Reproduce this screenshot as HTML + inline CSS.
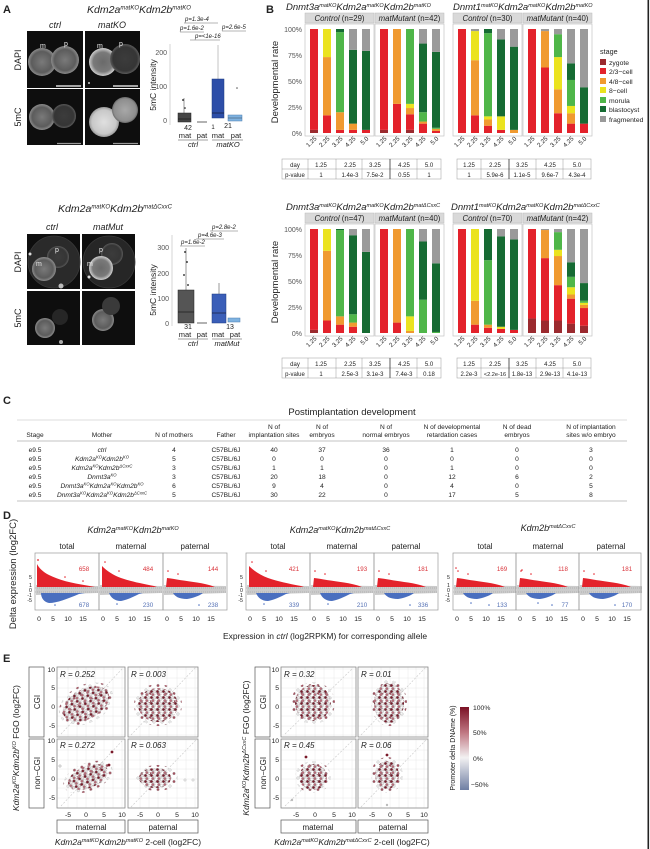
<!DOCTYPE html>
<html><head><meta charset="utf-8">
<style>
html,body{margin:0;padding:0;background:#fff;}
svg{display:block;}
text{font-family:"Liberation Sans",Arial,sans-serif;fill:#222;}
.r{fill:#e3222b}.dr{fill:#9b2a2f}.o{fill:#f09a30}.y{fill:#ebe31f}.lg{fill:#4fb649}.dg{fill:#166b33}.gy{fill:#9a9a9a}
.ax{font-size:7px;fill:#555}
.tk{font-size:6.2px;fill:#555}
.pv{font-size:6px;fill:#333}
.ct{font-size:6.6px;fill:#333}
.it{font-style:italic}
</style></head>
<body>
<svg width="650" height="849" viewBox="0 0 650 849" xmlns="http://www.w3.org/2000/svg">
<defs>
<radialGradient id="gMid"><stop offset="0" stop-color="#7a7a7a"/><stop offset="0.75" stop-color="#5c5c5c"/><stop offset="1" stop-color="#8c8c8c"/></radialGradient>
<radialGradient id="gDim"><stop offset="0" stop-color="#3c3c3c"/><stop offset="0.8" stop-color="#353535"/><stop offset="1" stop-color="#5a5a5a"/></radialGradient>
<radialGradient id="gRing"><stop offset="0" stop-color="#6a6a6a"/><stop offset="0.7" stop-color="#7a7a7a"/><stop offset="1" stop-color="#cfcfcf"/></radialGradient>
<radialGradient id="gBright"><stop offset="0" stop-color="#e0e0e0"/><stop offset="0.8" stop-color="#c8c8c8"/><stop offset="1" stop-color="#9a9a9a"/></radialGradient>
<radialGradient id="gMed"><stop offset="0" stop-color="#a8a8a8"/><stop offset="0.85" stop-color="#8e8e8e"/><stop offset="1" stop-color="#6a6a6a"/></radialGradient>
<linearGradient id="cbar" x1="0" y1="0" x2="0" y2="1">
<stop offset="0" stop-color="#7b1125"/><stop offset="0.31" stop-color="#c07883"/><stop offset="0.61" stop-color="#f3f1f2"/><stop offset="1" stop-color="#6f7fa3"/></linearGradient>
<pattern id="ep" width="6" height="6" patternUnits="userSpaceOnUse">
<circle cx="1.5" cy="1.5" r="1.35" fill="#7a1a2a" stroke="#777" stroke-width="0.3"/>
<circle cx="4.6" cy="1.8" r="1.3" fill="#f2e6e8" stroke="#888" stroke-width="0.3"/>
<circle cx="2.8" cy="4.6" r="1.35" fill="#b86a78" stroke="#888" stroke-width="0.3"/>
<circle cx="5.6" cy="5.2" r="1.1" fill="#fff" stroke="#999" stroke-width="0.3"/>
</pattern>
<pattern id="ep2" width="8" height="8" patternUnits="userSpaceOnUse">
<circle cx="2" cy="2" r="1.3" fill="#eee" stroke="#999" stroke-width="0.3"/>
<circle cx="6" cy="5.5" r="1.3" fill="#a7505f" stroke="#888" stroke-width="0.3"/>
</pattern>
<g id="dGray"><path d="M1,32 L63,33 L63,40 L1,42 Z" fill="#cbcbcb"/></g>
<g id="dLines"><line x1="0" y1="35" x2="64" y2="35" stroke="#888" stroke-width="0.4" stroke-dasharray="1,1"/><line x1="0" y1="39" x2="64" y2="39" stroke="#888" stroke-width="0.4" stroke-dasharray="1,1"/></g>
<g id="rT"><path d="M2,34 L2,11 C4,15 8,19 14,22 C24,27 36,30 52,32.5 L60,34 Z" fill="#e3222b"/><circle cx="3" cy="7" r="0.9" fill="#e3222b"/><circle cx="30" cy="24" r="0.8" fill="#e3222b"/><circle cx="48" cy="28" r="0.8" fill="#e3222b"/></g>
<g id="rM"><path d="M3,34 L3,13 C8,18 14,22 22,25 C32,28.5 42,30.5 55,33 L58,34 Z" fill="#e3222b"/><circle cx="6" cy="9" r="0.8" fill="#e3222b"/><circle cx="20" cy="18" r="0.8" fill="#e3222b"/></g>
<g id="rP"><path d="M3,34 L4,25 C12,26 22,28 34,29.5 C40,30.5 46,31.5 52,34 Z" fill="#e3222b"/><circle cx="5" cy="18" r="0.8" fill="#e3222b"/><circle cx="15" cy="21" r="0.8" fill="#e3222b"/></g>
<g id="bT"><path d="M6,40 C6,45 9,49 14,50 C22,50 32,46 44,41 L50,40 Z" fill="#4a6fbf"/><circle cx="20" cy="52" r="0.8" fill="#4a6fbf"/></g>
<g id="bM"><path d="M10,40 C12,45 16,48 22,48 C28,47 34,44 40,41 L44,40 Z" fill="#4a6fbf"/><circle cx="18" cy="51" r="0.8" fill="#4a6fbf"/></g>
<g id="bP"><path d="M10,40 C12,43.5 16,46 24,46 C30,45 36,43 40,40 Z" fill="#4a6fbf"/><circle cx="36" cy="52" r="0.8" fill="#4a6fbf"/></g>
</defs>

<rect x="0" y="0" width="650" height="849" fill="#fff"/>
<rect x="647.5" y="0" width="1.6" height="849" fill="#222"/>

<!-- ================= PANEL A ================= -->
<text x="3" y="13" font-size="11" font-weight="bold">A</text>
<text x="139" y="13" font-size="10.5" text-anchor="middle" class="it">Kdm2a<tspan dy="-3.5" font-size="6">matKO</tspan><tspan dy="3.5">Kdm2b</tspan><tspan dy="-3.5" font-size="6">matKO</tspan></text>
<text x="55" y="28" font-size="9" text-anchor="middle" class="it">ctrl</text>
<text x="112" y="28" font-size="9" text-anchor="middle" class="it">matKO</text>
<text transform="translate(21,60) rotate(-90)" font-size="9" text-anchor="middle">DAPI</text>
<text transform="translate(21,117) rotate(-90)" font-size="9" text-anchor="middle">5mC</text>
<rect x="27" y="31" width="56" height="57" fill="#0e0e0e"/>
<rect x="85" y="31" width="55" height="57" fill="#0e0e0e"/>
<rect x="27" y="89" width="56" height="56" fill="#0e0e0e"/>
<rect x="85" y="89" width="55" height="56" fill="#0e0e0e"/>
<circle cx="42" cy="62" r="14" fill="url(#gMid)"/>
<circle cx="65" cy="60" r="14" fill="url(#gMid)"/>
<circle cx="103" cy="62" r="14" fill="url(#gRing)"/>
<circle cx="125" cy="59" r="15" fill="url(#gDim)"/>
<circle cx="42" cy="117" r="13" fill="url(#gMid)"/>
<circle cx="64" cy="116" r="12" fill="url(#gDim)"/>
<circle cx="104" cy="122" r="15" fill="url(#gBright)"/>
<circle cx="125" cy="110" r="13" fill="url(#gMed)"/>
<text x="40" y="48" font-size="7" style="fill:#eee">m</text>
<text x="64" y="46" font-size="7" style="fill:#eee">p</text>
<text x="97" y="48" font-size="7" style="fill:#eee">m</text>
<text x="119" y="46" font-size="7" style="fill:#eee">p</text>
<line x1="56" y1="86" x2="81" y2="86" stroke="#fff" stroke-width="1.2"/>
<line x1="113" y1="86" x2="138" y2="86" stroke="#fff" stroke-width="1.2"/>
<line x1="57" y1="143.5" x2="81" y2="143.5" stroke="#999" stroke-width="1.2"/>
<line x1="113" y1="143.5" x2="138" y2="143.5" stroke="#999" stroke-width="1.2"/>
<circle cx="89" cy="83" r="1" fill="#ccc"/>

<!-- A top boxplot -->
<text transform="translate(156,85) rotate(-90)" font-size="8.5" text-anchor="middle">5mC intensity</text>
<line x1="170" y1="44" x2="170" y2="125" stroke="#bbb" stroke-width="0.6"/>
<text x="167" y="55" class="ax" text-anchor="end">200</text>
<text x="167" y="89" class="ax" text-anchor="end">100</text>
<text x="167" y="123" class="ax" text-anchor="end">0</text>
<line x1="184" y1="98" x2="184" y2="113" stroke="#555" stroke-width="0.6"/>
<rect x="178" y="113" width="13" height="9" fill="#444" stroke="#222" stroke-width="0.5"/>
<line x1="178" y1="119" x2="191" y2="119" stroke="#111" stroke-width="0.6"/>
<circle cx="183" cy="100" r="0.9" fill="#111"/><circle cx="185" cy="108" r="0.8" fill="#111"/>
<line x1="197" y1="122" x2="207" y2="122" stroke="#666" stroke-width="1"/>
<line x1="218" y1="45" x2="218" y2="79" stroke="#888" stroke-width="0.5"/>
<rect x="212" y="79" width="12" height="39" fill="#2d4ea8" stroke="#1e3a80" stroke-width="0.5"/>
<line x1="212" y1="113" x2="224" y2="113" stroke="#112" stroke-width="0.6"/>
<circle cx="237" cy="88" r="0.8" fill="#555"/>
<rect x="228" y="115" width="14" height="6" fill="#7fb2e0" stroke="#4a7fb0" stroke-width="0.5"/>
<line x1="228" y1="118" x2="242" y2="118" stroke="#345" stroke-width="0.5"/>
<text x="188" y="130" font-size="7" text-anchor="middle">42</text>
<text x="213" y="129" font-size="6" text-anchor="middle">1</text>
<text x="228" y="128" font-size="7" text-anchor="middle">21</text>
<text x="185" y="138" font-size="7.5" text-anchor="middle">mat</text>
<text x="202" y="138" font-size="7.5" text-anchor="middle">pat</text>
<text x="218" y="138" font-size="7.5" text-anchor="middle">mat</text>
<text x="236" y="138" font-size="7.5" text-anchor="middle">pat</text>
<line x1="178" y1="140" x2="208" y2="140" stroke="#444" stroke-width="0.5"/>
<line x1="212" y1="140" x2="243" y2="140" stroke="#444" stroke-width="0.5"/>
<text x="193" y="147" font-size="7.5" text-anchor="middle" class="it">ctrl</text>
<text x="228" y="147" font-size="7.5" text-anchor="middle" class="it">matKO</text>
<text x="185" y="21" font-size="6" class="it">p=1.3e-4</text>
<line x1="184" y1="23" x2="218" y2="23" stroke="#444" stroke-width="0.4"/>
<text x="180" y="30" font-size="6" class="it">p=1.6e-2</text>
<line x1="180" y1="32" x2="204" y2="32" stroke="#444" stroke-width="0.4"/>
<text x="222" y="29" font-size="6" class="it">p=2.6e-5</text>
<line x1="222" y1="31" x2="246" y2="31" stroke="#444" stroke-width="0.4"/>
<text x="195" y="38" font-size="6" class="it">p=&lt;1e-16</text>
<line x1="190" y1="40" x2="220" y2="40" stroke="#444" stroke-width="0.4"/>

<!-- A bottom -->
<text x="115" y="212" font-size="10.5" text-anchor="middle" class="it">Kdm2a<tspan dy="-3.5" font-size="6">matKO</tspan><tspan dy="3.5">Kdm2b</tspan><tspan dy="-3.5" font-size="6">matΔCxxC</tspan></text>
<text x="52" y="230" font-size="9" text-anchor="middle" class="it">ctrl</text>
<text x="108" y="230" font-size="9" text-anchor="middle" class="it">matMut</text>
<text transform="translate(21,262) rotate(-90)" font-size="9" text-anchor="middle">DAPI</text>
<text transform="translate(21,318) rotate(-90)" font-size="9" text-anchor="middle">5mC</text>
<rect x="27" y="234" width="53" height="55" fill="#0e0e0e"/>
<rect x="82" y="234" width="53" height="55" fill="#0e0e0e"/>
<rect x="27" y="291" width="53" height="54" fill="#0e0e0e"/>
<rect x="82" y="291" width="53" height="54" fill="#0e0e0e"/>
<circle cx="54" cy="262" r="26" fill="#2a2a2a" stroke="#3a3a3a" stroke-width="0.8"/>
<circle cx="109" cy="262" r="26" fill="#262626" stroke="#3a3a3a" stroke-width="0.8"/>
<circle cx="58" cy="257" r="11" fill="url(#gDim)"/>
<circle cx="44" cy="269" r="12" fill="url(#gMid)"/>
<circle cx="112" cy="254" r="11" fill="url(#gDim)"/>
<circle cx="101" cy="268" r="12" fill="url(#gRing)"/>
<circle cx="30" cy="254" r="1.5" fill="#ddd"/>
<circle cx="61" cy="286" r="2.5" fill="#bbb"/>
<circle cx="89" cy="277" r="1.5" fill="#ddd"/>
<text x="55" y="252" font-size="7" style="fill:#eee">p</text>
<text x="36" y="266" font-size="7" style="fill:#eee">m</text>
<text x="99" y="252" font-size="7" style="fill:#eee">p</text>
<text x="87" y="266" font-size="7" style="fill:#eee">m</text>
<circle cx="45" cy="328" r="10" fill="url(#gMid)"/>
<circle cx="60" cy="317" r="8" fill="#262626"/>
<circle cx="103" cy="320" r="11" fill="url(#gMid)"/>
<circle cx="111" cy="306" r="9" fill="#3a3a3a"/>
<circle cx="61" cy="342" r="2" fill="#aaa"/>
<!-- A bottom boxplot -->
<text transform="translate(156,290) rotate(-90)" font-size="8.5" text-anchor="middle">5mC intensity</text>
<line x1="172" y1="235" x2="172" y2="326" stroke="#bbb" stroke-width="0.6"/>
<text x="169" y="250" class="ax" text-anchor="end">300</text>
<text x="169" y="276" class="ax" text-anchor="end">200</text>
<text x="169" y="301" class="ax" text-anchor="end">100</text>
<text x="169" y="326" class="ax" text-anchor="end">0</text>
<line x1="186" y1="248" x2="186" y2="290" stroke="#555" stroke-width="0.6"/>
<rect x="178" y="290" width="16" height="33" fill="#555" stroke="#222" stroke-width="0.5"/>
<line x1="178" y1="312" x2="194" y2="312" stroke="#111" stroke-width="0.6"/>
<circle cx="185" cy="252" r="0.9" fill="#111"/><circle cx="187" cy="262" r="0.9" fill="#111"/><circle cx="184" cy="275" r="0.9" fill="#111"/><circle cx="188" cy="285" r="0.9" fill="#111"/>
<line x1="197" y1="323" x2="207" y2="323" stroke="#666" stroke-width="1"/>
<line x1="219" y1="283" x2="219" y2="294" stroke="#555" stroke-width="0.6"/>
<rect x="212" y="294" width="14" height="29" fill="#3a5eb8" stroke="#1e3a80" stroke-width="0.5"/>
<line x1="212" y1="313" x2="226" y2="313" stroke="#112" stroke-width="0.6"/>
<rect x="228" y="318" width="12" height="4" fill="#7fb2e0" stroke="#4a7fb0" stroke-width="0.5"/>
<text x="188" y="329" font-size="7" text-anchor="middle">31</text>
<text x="230" y="329" font-size="7" text-anchor="middle">13</text>
<text x="185" y="337" font-size="7.5" text-anchor="middle">mat</text>
<text x="202" y="337" font-size="7.5" text-anchor="middle">pat</text>
<text x="218" y="337" font-size="7.5" text-anchor="middle">mat</text>
<text x="235" y="337" font-size="7.5" text-anchor="middle">pat</text>
<line x1="178" y1="339" x2="208" y2="339" stroke="#444" stroke-width="0.5"/>
<line x1="212" y1="339" x2="242" y2="339" stroke="#444" stroke-width="0.5"/>
<text x="193" y="346" font-size="7.5" text-anchor="middle" class="it">ctrl</text>
<text x="227" y="346" font-size="7.5" text-anchor="middle" class="it">matMut</text>
<text x="181" y="244" font-size="6" class="it">p=1.6e-2</text>
<line x1="180" y1="246" x2="205" y2="246" stroke="#444" stroke-width="0.4"/>
<text x="198" y="237" font-size="6" class="it">p=4.6e-3</text>
<line x1="196" y1="239" x2="224" y2="239" stroke="#444" stroke-width="0.4"/>
<text x="212" y="229" font-size="6" class="it">p=2.8e-2</text>
<line x1="210" y1="231" x2="238" y2="231" stroke="#444" stroke-width="0.4"/>

<!-- ================= PANEL B ================= -->
<text x="266" y="13" font-size="11" font-weight="bold">B</text>
<text x="286" y="10" font-size="9.5" class="it">Dnmt3a<tspan dy="-3" font-size="5.5">matKO</tspan><tspan dy="3">Kdm2a</tspan><tspan dy="-3" font-size="5.5">matKO</tspan><tspan dy="3">Kdm2b</tspan><tspan dy="-3" font-size="5.5">matKO</tspan></text>
<text x="453" y="10" font-size="9.5" class="it">Dnmt1<tspan dy="-3" font-size="5.5">matKO</tspan><tspan dy="3">Kdm2a</tspan><tspan dy="-3" font-size="5.5">matKO</tspan><tspan dy="3">Kdm2b</tspan><tspan dy="-3" font-size="5.5">matKO</tspan></text>
<text x="286" y="210" font-size="9.5" class="it">Dnmt3a<tspan dy="-3" font-size="5.5">matKO</tspan><tspan dy="3">Kdm2a</tspan><tspan dy="-3" font-size="5.5">matKO</tspan><tspan dy="3">Kdm2b</tspan><tspan dy="-3" font-size="5.5">matΔCxxC</tspan></text>
<text x="451" y="210" font-size="9.5" class="it">Dnmt1<tspan dy="-3" font-size="5.5">matKO</tspan><tspan dy="3">Kdm2a</tspan><tspan dy="-3" font-size="5.5">matKO</tspan><tspan dy="3">Kdm2b</tspan><tspan dy="-3" font-size="5.5">matΔCxxC</tspan></text>

<g>
<text transform="translate(278,82) rotate(-90)" font-size="9.5" text-anchor="middle">Developmental rate</text>
<text x="302" y="32" class="ax" text-anchor="end">100%</text>
<text x="302" y="58" class="ax" text-anchor="end">75%</text>
<text x="302" y="84" class="ax" text-anchor="end">50%</text>
<text x="302" y="110" class="ax" text-anchor="end">25%</text>
<text x="302" y="136" class="ax" text-anchor="end">0%</text>
<text transform="translate(278,282) rotate(-90)" font-size="9.5" text-anchor="middle">Developmental rate</text>
<text x="302" y="232" class="ax" text-anchor="end">100%</text>
<text x="302" y="258" class="ax" text-anchor="end">75%</text>
<text x="302" y="284" class="ax" text-anchor="end">50%</text>
<text x="302" y="310" class="ax" text-anchor="end">25%</text>
<text x="302" y="336" class="ax" text-anchor="end">0%</text>
</g>

<g fill="#d9d9d9" stroke="#bbb" stroke-width="0.5">
<rect x="305" y="13" width="69" height="10"/><rect x="375" y="13" width="69" height="10"/>
<rect x="453" y="13" width="69" height="10"/><rect x="523" y="13" width="69" height="10"/>
<rect x="305" y="213" width="69" height="10"/><rect x="375" y="213" width="69" height="10"/>
<rect x="453" y="213" width="69" height="10"/><rect x="523" y="213" width="69" height="10"/>
</g>
<g fill="none" stroke="#c4c4c4" stroke-width="0.7">
<rect x="305" y="24" width="69" height="112"/><rect x="375" y="24" width="69" height="112"/>
<rect x="453" y="24" width="69" height="112"/><rect x="523" y="24" width="69" height="112"/>
<rect x="305" y="224" width="69" height="112"/><rect x="375" y="224" width="69" height="112"/>
<rect x="453" y="224" width="69" height="112"/><rect x="523" y="224" width="69" height="112"/>
</g>
<g font-size="7.8" text-anchor="middle">
<text x="339.5" y="21"><tspan class="it">Control</tspan> (n=29)</text>
<text x="409.5" y="21"><tspan class="it">matMutant</tspan> (n=42)</text>
<text x="487.5" y="21"><tspan class="it">Control</tspan> (n=30)</text>
<text x="557.5" y="21"><tspan class="it">matMutant</tspan> (n=40)</text>
<text x="339.5" y="221"><tspan class="it">Control</tspan> (n=47)</text>
<text x="409.5" y="221"><tspan class="it">matMutant</tspan> (n=40)</text>
<text x="487.5" y="221"><tspan class="it">Control</tspan> (n=70)</text>
<text x="557.5" y="221"><tspan class="it">matMutant</tspan> (n=42)</text>
</g>

<g transform="matrix(1,0,0,-1.04,0,133)">
<rect class="dr" x="310" y="0" width="8" height="3"/><rect class="r" x="310" y="3" width="8" height="97"/>
<rect class="r" x="323" y="0" width="8" height="17"/><rect class="o" x="323" y="17" width="8" height="56"/><rect class="y" x="323" y="73" width="8" height="27"/>
<rect class="r" x="336" y="0" width="8" height="3"/><rect class="o" x="336" y="3" width="8" height="17"/><rect class="lg" x="336" y="20" width="8" height="77"/><rect class="dg" x="336" y="97" width="8" height="3"/>
<rect class="r" x="349" y="0" width="8" height="3"/><rect class="o" x="349" y="3" width="8" height="6"/><rect class="dg" x="349" y="9" width="8" height="71"/><rect class="gy" x="349" y="80" width="8" height="20"/>
<rect class="r" x="362" y="0" width="8" height="3"/><rect class="dg" x="362" y="3" width="8" height="76"/><rect class="gy" x="362" y="79" width="8" height="21"/>
<rect class="dr" x="380" y="0" width="8" height="3"/><rect class="r" x="380" y="3" width="8" height="97"/>
<rect class="r" x="393" y="0" width="8" height="28"/><rect class="o" x="393" y="28" width="8" height="72"/>
<rect class="dr" x="406" y="0" width="8" height="3"/><rect class="r" x="406" y="3" width="8" height="15"/><rect class="o" x="406" y="18" width="8" height="6"/><rect class="y" x="406" y="24" width="8" height="4"/><rect class="lg" x="406" y="28" width="8" height="72"/>
<rect class="r" x="419" y="0" width="8" height="9"/><rect class="o" x="419" y="9" width="8" height="2"/><rect class="lg" x="419" y="11" width="8" height="9"/><rect class="dg" x="419" y="20" width="8" height="66"/><rect class="gy" x="419" y="86" width="8" height="14"/>
<rect class="r" x="432" y="0" width="8" height="2"/><rect class="o" x="432" y="2" width="8" height="2"/><rect class="lg" x="432" y="4" width="8" height="1"/><rect class="dg" x="432" y="5" width="8" height="73"/><rect class="gy" x="432" y="78" width="8" height="22"/>
</g>
<g transform="matrix(1,0,0,-1.04,0,133)">
<rect class="r" x="458" y="0" width="8" height="100"/>
<rect class="r" x="471" y="0" width="8" height="17"/><rect class="o" x="471" y="17" width="8" height="53"/><rect class="y" x="471" y="70" width="8" height="28"/><rect class="gy" x="471" y="98" width="8" height="2"/>
<rect class="r" x="484" y="0" width="8" height="7"/><rect class="o" x="484" y="7" width="8" height="6"/><rect class="y" x="484" y="13" width="8" height="3"/><rect class="lg" x="484" y="16" width="8" height="80"/><rect class="dg" x="484" y="96" width="8" height="4"/>
<rect class="r" x="497" y="0" width="8" height="3"/><rect class="y" x="497" y="3" width="8" height="13"/><rect class="dg" x="497" y="16" width="8" height="74"/><rect class="gy" x="497" y="90" width="8" height="10"/>
<rect class="o" x="510" y="0" width="8" height="3"/><rect class="dg" x="510" y="3" width="8" height="80"/><rect class="gy" x="510" y="83" width="8" height="17"/>
<rect class="r" x="528" y="0" width="8" height="100"/>
<rect class="r" x="541" y="0" width="8" height="63"/><rect class="o" x="541" y="63" width="8" height="35"/><rect class="gy" x="541" y="98" width="8" height="2"/>
<rect class="r" x="554" y="0" width="8" height="19"/><rect class="o" x="554" y="19" width="8" height="23"/><rect class="y" x="554" y="42" width="8" height="31"/><rect class="lg" x="554" y="73" width="8" height="22"/><rect class="gy" x="554" y="95" width="8" height="5"/>
<rect class="r" x="567" y="0" width="8" height="9"/><rect class="o" x="567" y="9" width="8" height="10"/><rect class="y" x="567" y="19" width="8" height="7"/><rect class="lg" x="567" y="26" width="8" height="25"/><rect class="dg" x="567" y="51" width="8" height="16"/><rect class="gy" x="567" y="67" width="8" height="33"/>
<rect class="r" x="580" y="0" width="8" height="9"/><rect class="dg" x="580" y="9" width="8" height="35"/><rect class="gy" x="580" y="44" width="8" height="56"/>
</g>
<g transform="matrix(1,0,0,-1.04,0,333)">
<rect class="dr" x="310" y="0" width="8" height="3"/><rect class="r" x="310" y="3" width="8" height="97"/>
<rect class="r" x="323" y="0" width="8" height="12"/><rect class="o" x="323" y="12" width="8" height="67"/><rect class="y" x="323" y="79" width="8" height="21"/>
<rect class="r" x="336" y="0" width="8" height="8"/><rect class="o" x="336" y="8" width="8" height="8"/><rect class="lg" x="336" y="16" width="8" height="83"/><rect class="dg" x="336" y="99" width="8" height="1"/>
<rect class="r" x="349" y="0" width="8" height="6"/><rect class="o" x="349" y="6" width="8" height="4"/><rect class="lg" x="349" y="10" width="8" height="8"/><rect class="dg" x="349" y="18" width="8" height="76"/><rect class="gy" x="349" y="94" width="8" height="6"/>
<rect class="dg" x="362" y="0" width="8" height="78"/><rect class="gy" x="362" y="78" width="8" height="22"/>
<rect class="r" x="380" y="0" width="8" height="100"/>
<rect class="r" x="393" y="0" width="8" height="10"/><rect class="o" x="393" y="10" width="8" height="90"/>
<rect class="o" x="406" y="0" width="8" height="2"/><rect class="y" x="406" y="2" width="8" height="14"/><rect class="lg" x="406" y="16" width="8" height="84"/>
<rect class="lg" x="419" y="0" width="8" height="32"/><rect class="dg" x="419" y="32" width="8" height="56"/><rect class="gy" x="419" y="88" width="8" height="12"/>
<rect class="lg" x="432" y="0" width="8" height="1"/><rect class="dg" x="432" y="1" width="8" height="66"/><rect class="gy" x="432" y="67" width="8" height="33"/>
</g>
<g transform="matrix(1,0,0,-1.04,0,333)">
<rect class="r" x="458" y="0" width="8" height="100"/>
<rect class="r" x="471" y="0" width="8" height="8"/><rect class="o" x="471" y="8" width="8" height="23"/><rect class="y" x="471" y="31" width="8" height="69"/>
<rect class="r" x="484" y="0" width="8" height="5"/><rect class="o" x="484" y="5" width="8" height="3"/><rect class="lg" x="484" y="8" width="8" height="62"/><rect class="dg" x="484" y="70" width="8" height="30"/>
<rect class="r" x="497" y="0" width="8" height="4"/><rect class="y" x="497" y="4" width="8" height="2"/><rect class="dg" x="497" y="6" width="8" height="87"/><rect class="gy" x="497" y="93" width="8" height="7"/>
<rect class="r" x="510" y="0" width="8" height="3"/><rect class="dg" x="510" y="3" width="8" height="87"/><rect class="gy" x="510" y="90" width="8" height="10"/>
<rect class="dr" x="528" y="0" width="8" height="14"/><rect class="r" x="528" y="14" width="8" height="86"/>
<rect class="dr" x="541" y="0" width="8" height="12"/><rect class="r" x="541" y="12" width="8" height="60"/><rect class="o" x="541" y="72" width="8" height="27"/><rect class="gy" x="541" y="99" width="8" height="1"/>
<rect class="dr" x="554" y="0" width="8" height="12"/><rect class="r" x="554" y="12" width="8" height="34"/><rect class="o" x="554" y="46" width="8" height="28"/><rect class="y" x="554" y="74" width="8" height="6"/><rect class="lg" x="554" y="80" width="8" height="17"/><rect class="gy" x="554" y="97" width="8" height="3"/>
<rect class="dr" x="567" y="0" width="8" height="9"/><rect class="r" x="567" y="9" width="8" height="24"/><rect class="o" x="567" y="33" width="8" height="4"/><rect class="y" x="567" y="37" width="8" height="7"/><rect class="lg" x="567" y="44" width="8" height="10"/><rect class="dg" x="567" y="54" width="8" height="14"/><rect class="gy" x="567" y="68" width="8" height="32"/>
<rect class="dr" x="580" y="0" width="8" height="7"/><rect class="r" x="580" y="7" width="8" height="17"/><rect class="o" x="580" y="24" width="8" height="3"/><rect class="y" x="580" y="27" width="8" height="2"/><rect class="lg" x="580" y="29" width="8" height="2"/><rect class="dg" x="580" y="31" width="8" height="17"/><rect class="gy" x="580" y="48" width="8" height="52"/>
</g>

<g class="tk" text-anchor="end">
<text transform="translate(317,139) rotate(-45)">1.25</text><text transform="translate(330,139) rotate(-45)">2.25</text><text transform="translate(343,139) rotate(-45)">3.25</text><text transform="translate(356,139) rotate(-45)">4.25</text><text transform="translate(369,139) rotate(-45)">5.0</text>
<text transform="translate(387,139) rotate(-45)">1.25</text><text transform="translate(400,139) rotate(-45)">2.25</text><text transform="translate(413,139) rotate(-45)">3.25</text><text transform="translate(426,139) rotate(-45)">4.25</text><text transform="translate(439,139) rotate(-45)">5.0</text>
<text transform="translate(465,139) rotate(-45)">1.25</text><text transform="translate(478,139) rotate(-45)">2.25</text><text transform="translate(491,139) rotate(-45)">3.25</text><text transform="translate(504,139) rotate(-45)">4.25</text><text transform="translate(517,139) rotate(-45)">5.0</text>
<text transform="translate(535,139) rotate(-45)">1.25</text><text transform="translate(548,139) rotate(-45)">2.25</text><text transform="translate(561,139) rotate(-45)">3.25</text><text transform="translate(574,139) rotate(-45)">4.25</text><text transform="translate(587,139) rotate(-45)">5.0</text>
<text transform="translate(317,339) rotate(-45)">1.25</text><text transform="translate(330,339) rotate(-45)">2.25</text><text transform="translate(343,339) rotate(-45)">3.25</text><text transform="translate(356,339) rotate(-45)">4.25</text><text transform="translate(369,339) rotate(-45)">5.0</text>
<text transform="translate(387,339) rotate(-45)">1.25</text><text transform="translate(400,339) rotate(-45)">2.25</text><text transform="translate(413,339) rotate(-45)">3.25</text><text transform="translate(426,339) rotate(-45)">4.25</text><text transform="translate(439,339) rotate(-45)">5.0</text>
<text transform="translate(465,339) rotate(-45)">1.25</text><text transform="translate(478,339) rotate(-45)">2.25</text><text transform="translate(491,339) rotate(-45)">3.25</text><text transform="translate(504,339) rotate(-45)">4.25</text><text transform="translate(517,339) rotate(-45)">5.0</text>
<text transform="translate(535,339) rotate(-45)">1.25</text><text transform="translate(548,339) rotate(-45)">2.25</text><text transform="translate(561,339) rotate(-45)">3.25</text><text transform="translate(574,339) rotate(-45)">4.25</text><text transform="translate(587,339) rotate(-45)">5.0</text>
</g>

<text x="600" y="54" font-size="7.2">stage</text>
<rect class="dr" x="600" y="59" width="6" height="6"/><text x="609" y="65" font-size="6.8">zygote</text>
<rect class="r" x="600" y="68" width="6" height="6"/><text x="609" y="74" font-size="6.8">2/3−cell</text>
<rect class="o" x="600" y="78" width="6" height="6"/><text x="609" y="84" font-size="6.8">4/8−cell</text>
<rect class="y" x="600" y="87" width="6" height="6"/><text x="609" y="93" font-size="6.8">8−cell</text>
<rect class="lg" x="600" y="97" width="6" height="6"/><text x="609" y="103" font-size="6.8">morula</text>
<rect class="dg" x="600" y="106" width="6" height="6"/><text x="609" y="112" font-size="6.8">blastocyst</text>
<rect class="gy" x="600" y="116" width="6" height="6"/><text x="609" y="122" font-size="6.8">fragmented</text>

<g fill="none" stroke="#999" stroke-width="0.5">
<rect x="282" y="159" width="159" height="20"/><line x1="282" y1="169" x2="441" y2="169"/>
<line x1="308" y1="159" x2="308" y2="179"/><line x1="336" y1="159" x2="336" y2="179"/><line x1="362" y1="159" x2="362" y2="179"/><line x1="417" y1="159" x2="417" y2="179"/>
<rect x="457" y="159" width="134" height="20"/><line x1="457" y1="169" x2="591" y2="169"/>
<line x1="481" y1="159" x2="481" y2="179"/><line x1="536" y1="159" x2="536" y2="179"/><line x1="563" y1="159" x2="563" y2="179"/>
<rect x="282" y="358" width="159" height="20"/><line x1="282" y1="368" x2="441" y2="368"/>
<line x1="308" y1="358" x2="308" y2="378"/><line x1="336" y1="358" x2="336" y2="378"/><line x1="362" y1="358" x2="362" y2="378"/><line x1="417" y1="358" x2="417" y2="378"/>
<rect x="457" y="358" width="134" height="20"/><line x1="457" y1="368" x2="591" y2="368"/>
<line x1="481" y1="358" x2="481" y2="378"/><line x1="536" y1="358" x2="536" y2="378"/><line x1="563" y1="358" x2="563" y2="378"/>
</g>
<g stroke="#333" stroke-width="0.8">
<line x1="390" y1="159" x2="390" y2="179"/><line x1="509" y1="159" x2="509" y2="179"/>
<line x1="390" y1="358" x2="390" y2="378"/><line x1="509" y1="358" x2="509" y2="378"/>
</g>
<g class="pv" text-anchor="middle">
<text x="295" y="167">day</text><text x="295" y="177">p-value</text>
<text x="321" y="167">1.25</text><text x="350" y="167">2.25</text><text x="375" y="167">3.25</text><text x="404" y="167">4.25</text><text x="429" y="167">5.0</text>
<text x="321" y="177">1</text><text x="350" y="177">1.4e-3</text><text x="375" y="177">7.5e-2</text><text x="404" y="177">0.55</text><text x="429" y="177">1</text>
<text x="469" y="167">1.25</text><text x="495" y="167">2.25</text><text x="522" y="167">3.25</text><text x="550" y="167">4.25</text><text x="577" y="167">5.0</text>
<text x="469" y="177">1</text><text x="495" y="177">5.9e-6</text><text x="522" y="177">1.1e-5</text><text x="550" y="177">9.6e-7</text><text x="577" y="177">4.3e-4</text>
<text x="295" y="366">day</text><text x="295" y="376">p-value</text>
<text x="321" y="366">1.25</text><text x="350" y="366">2.25</text><text x="375" y="366">3.25</text><text x="404" y="366">4.25</text><text x="429" y="366">5.0</text>
<text x="321" y="376">1</text><text x="350" y="376">2.5e-3</text><text x="375" y="376">3.1e-3</text><text x="404" y="376">7.4e-3</text><text x="429" y="376">0.18</text>
<text x="469" y="366">1.25</text><text x="495" y="366">2.25</text><text x="522" y="366">3.25</text><text x="550" y="366">4.25</text><text x="577" y="366">5.0</text>
<text x="469" y="376">2.2e-3</text><text x="495" y="376" font-size="5.6">&lt;2.2e-16</text><text x="522" y="376">1.8e-13</text><text x="550" y="376">2.9e-13</text><text x="577" y="376">4.1e-13</text>
</g>

<!-- ================= PANEL C ================= -->
<text x="3" y="404" font-size="11" font-weight="bold">C</text>
<text x="352" y="415" font-size="9.5" text-anchor="middle">Postimplantation development</text>
<line x1="17" y1="420" x2="627" y2="420" stroke="#bbb" stroke-width="0.5"/>
<line x1="17" y1="441" x2="627" y2="441" stroke="#888" stroke-width="0.6"/>
<line x1="17" y1="501" x2="627" y2="501" stroke="#888" stroke-width="0.6"/>
<g class="ct" text-anchor="middle">
<text x="35" y="437">Stage</text><text x="102" y="437">Mother</text><text x="174" y="437">N of mothers</text><text x="226" y="437">Father</text>
<text x="274" y="429">N of</text><text x="274" y="437">implantation sites</text>
<text x="322" y="429">N of</text><text x="322" y="437">embryos</text>
<text x="386" y="429">N of</text><text x="386" y="437">normal embryos</text>
<text x="452" y="429">N of developmental</text><text x="452" y="437">retardation cases</text>
<text x="517" y="429">N of dead</text><text x="517" y="437">embryos</text>
<text x="591" y="429">N of implantation</text><text x="591" y="437">sites w/o embryo</text>
</g>
<g class="ct" text-anchor="middle">
<text x="35" y="452">e9.5</text><text x="35" y="461">e9.5</text><text x="35" y="470">e9.5</text><text x="35" y="479">e9.5</text><text x="35" y="488">e9.5</text><text x="35" y="497">e9.5</text>
<text x="102" y="452" class="it">ctrl</text>
<text x="102" y="461" class="it">Kdm2a<tspan dy="-2.5" font-size="4.2">KO</tspan><tspan dy="2.5">Kdm2b</tspan><tspan dy="-2.5" font-size="4.2">KO</tspan></text>
<text x="102" y="470" class="it">Kdm2a<tspan dy="-2.5" font-size="4.2">KO</tspan><tspan dy="2.5">Kdm2b</tspan><tspan dy="-2.5" font-size="4.2">ΔCxxC</tspan></text>
<text x="102" y="479" class="it">Dnmt3a<tspan dy="-2.5" font-size="4.2">KO</tspan></text>
<text x="102" y="488" class="it">Dnmt3a<tspan dy="-2.5" font-size="4.2">KO</tspan><tspan dy="2.5">Kdm2a</tspan><tspan dy="-2.5" font-size="4.2">KO</tspan><tspan dy="2.5">Kdm2b</tspan><tspan dy="-2.5" font-size="4.2">KO</tspan></text>
<text x="102" y="497" class="it">Dnmt3a<tspan dy="-2.5" font-size="4.2">KO</tspan><tspan dy="2.5">Kdm2a</tspan><tspan dy="-2.5" font-size="4.2">KO</tspan><tspan dy="2.5">Kdm2b</tspan><tspan dy="-2.5" font-size="4.2">ΔCxxC</tspan></text>
<text x="174" y="452">4</text><text x="174" y="461">5</text><text x="174" y="470">3</text><text x="174" y="479">3</text><text x="174" y="488">6</text><text x="174" y="497">5</text>
<text x="226" y="452">C57BL/6J</text><text x="226" y="461">C57BL/6J</text><text x="226" y="470">C57BL/6J</text><text x="226" y="479">C57BL/6J</text><text x="226" y="488">C57BL/6J</text><text x="226" y="497">C57BL/6J</text>
<text x="274" y="452">40</text><text x="274" y="461">0</text><text x="274" y="470">1</text><text x="274" y="479">20</text><text x="274" y="488">9</text><text x="274" y="497">30</text>
<text x="322" y="452">37</text><text x="322" y="461">0</text><text x="322" y="470">1</text><text x="322" y="479">18</text><text x="322" y="488">4</text><text x="322" y="497">22</text>
<text x="386" y="452">36</text><text x="386" y="461">0</text><text x="386" y="470">0</text><text x="386" y="479">0</text><text x="386" y="488">0</text><text x="386" y="497">0</text>
<text x="452" y="452">1</text><text x="452" y="461">0</text><text x="452" y="470">1</text><text x="452" y="479">12</text><text x="452" y="488">4</text><text x="452" y="497">17</text>
<text x="517" y="452">0</text><text x="517" y="461">0</text><text x="517" y="470">0</text><text x="517" y="479">6</text><text x="517" y="488">0</text><text x="517" y="497">5</text>
<text x="591" y="452">3</text><text x="591" y="461">0</text><text x="591" y="470">0</text><text x="591" y="479">2</text><text x="591" y="488">5</text><text x="591" y="497">8</text>
</g>

<!-- ================= PANEL D ================= -->
<text x="3" y="519" font-size="11" font-weight="bold">D</text>
<text transform="translate(16,574) rotate(-90)" font-size="9.5" text-anchor="middle">Delta expression (log2FC)</text>
<text x="133" y="533" font-size="9" text-anchor="middle" class="it">Kdm2a<tspan dy="-3" font-size="5.5">matKO</tspan><tspan dy="3">Kdm2b</tspan><tspan dy="-3" font-size="5.5">matKO</tspan></text>
<text x="340" y="533" font-size="9" text-anchor="middle" class="it">Kdm2a<tspan dy="-3" font-size="5.5">matKO</tspan><tspan dy="3">Kdm2b</tspan><tspan dy="-3" font-size="5.5">matΔCxxC</tspan></text>
<text x="548" y="531" font-size="9" text-anchor="middle" class="it">Kdm2b<tspan dy="-3" font-size="5.5">matΔCxxC</tspan></text>
<g font-size="8" text-anchor="middle">
<text x="67" y="549">total</text><text x="131" y="549">maternal</text><text x="195" y="549">paternal</text>
<text x="278" y="549">total</text><text x="342" y="549">maternal</text><text x="406" y="549">paternal</text>
<text x="485" y="549">total</text><text x="548" y="549">maternal</text><text x="611" y="549">paternal</text>
</g>
<g transform="translate(35,553)"><use href="#dGray"/><use href="#rT"/><use href="#bT"/><use href="#dLines"/></g>
<g transform="translate(99,553)"><use href="#dGray"/><use href="#rM"/><use href="#bM"/><use href="#dLines"/></g>
<g transform="translate(163,553)"><use href="#dGray"/><use href="#rP"/><use href="#bP"/><use href="#dLines"/></g>
<g transform="translate(246,553)"><use href="#dGray"/><use href="#rM"/><use href="#bM"/><use href="#dLines"/></g>
<g transform="translate(310,553)"><use href="#dGray"/><use href="#rP"/><use href="#bM"/><use href="#dLines"/></g>
<g transform="translate(374,553)"><use href="#dGray"/><use href="#rP"/><use href="#bP"/><use href="#dLines"/></g>
<g transform="translate(453,553)"><use href="#dGray"/><use href="#rP"/><use href="#bP"/><use href="#dLines"/><circle cx="3" cy="15" r="0.8" fill="#e3222b"/><circle cx="18" cy="50" r="0.8" fill="#4a6fbf"/></g>
<g transform="translate(516,553)"><use href="#dGray"/><use href="#rP"/><use href="#bP"/><use href="#dLines"/><circle cx="6" cy="17" r="0.8" fill="#e3222b"/><circle cx="22" cy="50" r="0.8" fill="#4a6fbf"/></g>
<g transform="translate(579,553)"><use href="#dGray"/><use href="#rP"/><use href="#bP"/><use href="#dLines"/></g>
<g fill="none" stroke="#9a9a9a" stroke-width="0.7">
<rect x="35" y="553" width="64" height="57"/><rect x="99" y="553" width="64" height="57"/><rect x="163" y="553" width="64" height="57"/>
<rect x="246" y="553" width="64" height="57"/><rect x="310" y="553" width="64" height="57"/><rect x="374" y="553" width="64" height="57"/>
<rect x="453" y="553" width="63" height="57"/><rect x="516" y="553" width="63" height="57"/><rect x="579" y="553" width="62" height="57"/>
</g>
<g font-size="5.3" text-anchor="end" style="fill:#555">
<text x="32" y="579">5</text><text x="32" y="587">1</text><text x="32" y="592">0</text><text x="32" y="597">-1</text><text x="32" y="602">-5</text>
<text x="243" y="579">5</text><text x="243" y="587">1</text><text x="243" y="592">0</text><text x="243" y="597">-1</text><text x="243" y="602">-5</text>
<text x="450" y="579">5</text><text x="450" y="587">1</text><text x="450" y="592">0</text><text x="450" y="597">-1</text><text x="450" y="602">-5</text>
</g>
<g font-size="6.2" text-anchor="middle">
<text x="84" y="571" style="fill:#d9333a">658</text><text x="148" y="571" style="fill:#d9333a">484</text><text x="213" y="571" style="fill:#d9333a">144</text>
<text x="84" y="607" style="fill:#5571b5">678</text><text x="148" y="607" style="fill:#5571b5">230</text><text x="213" y="607" style="fill:#5571b5">238</text>
<text x="294" y="571" style="fill:#d9333a">421</text><text x="362" y="571" style="fill:#d9333a">193</text><text x="423" y="571" style="fill:#d9333a">181</text>
<text x="294" y="607" style="fill:#5571b5">339</text><text x="362" y="607" style="fill:#5571b5">210</text><text x="423" y="607" style="fill:#5571b5">336</text>
<text x="502" y="571" style="fill:#d9333a">169</text><text x="563" y="571" style="fill:#d9333a">118</text><text x="627" y="571" style="fill:#d9333a">181</text>
<text x="502" y="607" style="fill:#5571b5">133</text><text x="565" y="607" style="fill:#5571b5">77</text><text x="627" y="607" style="fill:#5571b5">170</text>
</g>
<g font-size="6.8" text-anchor="middle" style="fill:#444">
<text x="39" y="621">0</text><text x="53" y="621">5</text><text x="68" y="621">10</text><text x="83" y="621">15</text>
<text x="103" y="621">0</text><text x="117" y="621">5</text><text x="132" y="621">10</text><text x="147" y="621">15</text>
<text x="167" y="621">0</text><text x="181" y="621">5</text><text x="196" y="621">10</text><text x="211" y="621">15</text>
<text x="250" y="621">0</text><text x="264" y="621">5</text><text x="279" y="621">10</text><text x="294" y="621">15</text>
<text x="314" y="621">0</text><text x="328" y="621">5</text><text x="343" y="621">10</text><text x="358" y="621">15</text>
<text x="378" y="621">0</text><text x="392" y="621">5</text><text x="407" y="621">10</text><text x="422" y="621">15</text>
<text x="457" y="621">0</text><text x="471" y="621">5</text><text x="486" y="621">10</text><text x="501" y="621">15</text>
<text x="520" y="621">0</text><text x="534" y="621">5</text><text x="549" y="621">10</text><text x="564" y="621">15</text>
<text x="583" y="621">0</text><text x="597" y="621">5</text><text x="612" y="621">10</text><text x="627" y="621">15</text>
</g>
<text x="325" y="639" font-size="8.5" text-anchor="middle">Expression in <tspan class="it">ctrl</tspan> (log2RPKM) for corresponding allele</text>

<!-- ================= PANEL E ================= -->
<text x="3" y="662" font-size="11" font-weight="bold">E</text>
<text transform="translate(19,748) rotate(-90)" font-size="8.5" text-anchor="middle" class="it">Kdm2a<tspan dy="-3" font-size="5.5">KO</tspan><tspan dy="3">Kdm2b</tspan><tspan dy="-3" font-size="5.5">KO</tspan><tspan dy="3" font-style="normal"> FGO (log2FC)</tspan></text>
<text transform="translate(249,748) rotate(-90)" font-size="8.5" text-anchor="middle" class="it">Kdm2a<tspan dy="-3" font-size="5.5">KO</tspan><tspan dy="3">Kdm2b</tspan><tspan dy="-3" font-size="5.5">ΔCxxC</tspan><tspan dy="3" font-style="normal"> FGO (log2FC)</tspan></text>
<g fill="#fff" stroke="#555" stroke-width="0.7">
<rect x="29" y="667" width="15" height="70"/><rect x="29" y="739" width="15" height="69"/>
<rect x="255" y="667" width="15" height="70"/><rect x="255" y="739" width="15" height="69"/>
<rect x="57" y="820" width="68" height="13"/><rect x="128" y="820" width="70" height="13"/>
<rect x="281" y="820" width="75" height="13"/><rect x="358" y="820" width="70" height="13"/>
</g>
<g font-size="8" text-anchor="middle">
<text transform="translate(40,702) rotate(-90)">CGI</text><text transform="translate(40,773) rotate(-90)">non−CGI</text>
<text transform="translate(266,702) rotate(-90)">CGI</text><text transform="translate(266,773) rotate(-90)">non−CGI</text>
<text x="91" y="830">maternal</text><text x="163" y="830">paternal</text>
<text x="318" y="830">maternal</text><text x="393" y="830">paternal</text>
</g>
<g stroke="#e8e8e8" stroke-width="0.5">
<path d="M68,667V737M77,667V737M86,667V737M95,667V737M104,667V737M113,667V737M122,667V737"/>
<path d="M68,739V808M77,739V808M86,739V808M95,739V808M104,739V808M113,739V808M122,739V808"/>
<path d="M140,667V737M149,667V737M158,667V737M167,667V737M177,667V737M186,667V737M195,667V737"/>
<path d="M140,739V808M149,739V808M158,739V808M167,739V808M177,739V808M186,739V808M195,739V808"/>
<path d="M57,669H125M57,678H125M57,688H125M57,697H125M57,707H125M57,716H125M57,726H125M57,735H125"/>
<path d="M128,669H198M128,678H198M128,688H198M128,697H198M128,707H198M128,716H198M128,726H198M128,735H198"/>
<path d="M57,740H125M57,750H125M57,760H125M57,769H125M57,779H125M57,788H125M57,798H125"/>
<path d="M128,740H198M128,750H198M128,760H198M128,769H198M128,779H198M128,788H198M128,798H198"/>
<path d="M296,667V737M305,667V737M315,667V737M324,667V737M334,667V737M343,667V737M352,667V737"/>
<path d="M296,739V808M305,739V808M315,739V808M324,739V808M334,739V808M343,739V808M352,739V808"/>
<path d="M372,667V737M381,667V737M390,667V737M399,667V737M408,667V737M416,667V737M424,667V737"/>
<path d="M372,739V808M381,739V808M390,739V808M399,739V808M408,739V808M416,739V808M424,739V808"/>
<path d="M281,669H356M281,678H356M281,688H356M281,697H356M281,707H356M281,716H356M281,726H356M281,735H356"/>
<path d="M358,669H428M358,678H428M358,688H428M358,697H428M358,707H428M358,716H428M358,726H428M358,735H428"/>
<path d="M281,740H356M281,750H356M281,760H356M281,769H356M281,779H356M281,788H356M281,798H356"/>
<path d="M358,740H428M358,750H428M358,760H428M358,769H428M358,779H428M358,788H428M358,798H428"/>
</g>
<g stroke="#c8c8c8" stroke-width="0.6" stroke-dasharray="2,1.5" fill="none">
<line x1="61" y1="734" x2="122" y2="669"/><line x1="131" y1="735" x2="196" y2="667"/>
<line x1="61" y1="806" x2="122" y2="741"/><line x1="131" y1="807" x2="196" y2="740"/>
<line x1="285" y1="734" x2="352" y2="669"/><line x1="361" y1="735" x2="426" y2="667"/>
<line x1="285" y1="806" x2="352" y2="741"/><line x1="361" y1="807" x2="426" y2="740"/>
</g>
<ellipse cx="86" cy="704" rx="29" ry="19" transform="rotate(-28 86 704)" fill="url(#ep2)"/>
<ellipse cx="86" cy="704" rx="25" ry="15" transform="rotate(-28 86 704)" fill="url(#ep)"/>
<ellipse cx="158" cy="705" rx="24" ry="21" fill="url(#ep2)"/>
<ellipse cx="158" cy="705" rx="20" ry="17" fill="url(#ep)"/>
<ellipse cx="88" cy="777" rx="26" ry="14" transform="rotate(-22 88 777)" fill="url(#ep2)"/>
<ellipse cx="88" cy="777" rx="21" ry="11" transform="rotate(-22 88 777)" fill="url(#ep)"/>
<ellipse cx="157" cy="778" rx="21" ry="13" fill="url(#ep2)"/>
<ellipse cx="155" cy="778" rx="16" ry="10" fill="url(#ep)"/>
<ellipse cx="313" cy="703" rx="22" ry="21" fill="url(#ep2)"/>
<ellipse cx="313" cy="703" rx="18" ry="18" fill="url(#ep)"/>
<ellipse cx="389" cy="703" rx="18" ry="23" fill="url(#ep2)"/>
<ellipse cx="389" cy="703" rx="15" ry="20" fill="url(#ep)"/>
<ellipse cx="313" cy="777" rx="18" ry="16" fill="url(#ep2)"/>
<ellipse cx="313" cy="777" rx="14" ry="13" fill="url(#ep)"/>
<ellipse cx="387" cy="775" rx="16" ry="18" fill="url(#ep2)"/>
<ellipse cx="387" cy="775" rx="12" ry="14" fill="url(#ep)"/>
<circle cx="109" cy="765" r="1.4" fill="#7a1a2a"/><circle cx="112" cy="752" r="1.4" fill="#7a1a2a"/><circle cx="60" cy="766" r="1.3" fill="#ddd" stroke="#999" stroke-width="0.3"/>
<circle cx="185" cy="780" r="1.2" fill="#eee" stroke="#999" stroke-width="0.3"/><circle cx="193" cy="780" r="1.2" fill="#eee" stroke="#999" stroke-width="0.3"/>
<circle cx="306" cy="757" r="1.4" fill="#7a1a2a"/><circle cx="292" cy="800" r="1.2" fill="#bbb"/><circle cx="387" cy="755" r="1.4" fill="#7a1a2a"/><circle cx="387" cy="805" r="1.2" fill="#bbb"/>
<g fill="none" stroke="#888" stroke-width="0.8">
<rect x="57" y="667" width="68" height="70"/><rect x="128" y="667" width="70" height="70"/>
<rect x="57" y="739" width="68" height="69"/><rect x="128" y="739" width="70" height="69"/>
<rect x="281" y="667" width="75" height="70"/><rect x="358" y="667" width="70" height="70"/>
<rect x="281" y="739" width="75" height="69"/><rect x="358" y="739" width="70" height="69"/>
</g>
<g font-size="8" class="it">
<text x="60" y="677">R = 0.252</text><text x="131" y="677">R = 0.003</text>
<text x="60" y="748">R = 0.272</text><text x="131" y="748">R = 0.063</text>
<text x="284" y="677">R = 0.32</text><text x="361" y="677">R = 0.01</text>
<text x="284" y="748">R = 0.45</text><text x="361" y="748">R = 0.06</text>
</g>
<g font-size="6.8" text-anchor="end" style="fill:#555">
<text x="55" y="672">10</text><text x="55" y="690">5</text><text x="55" y="709">0</text><text x="55" y="728">-5</text>
<text x="55" y="743">10</text><text x="55" y="762">5</text><text x="55" y="781">0</text><text x="55" y="800">-5</text>
<text x="279" y="672">10</text><text x="279" y="690">5</text><text x="279" y="709">0</text><text x="279" y="728">-5</text>
<text x="279" y="743">10</text><text x="279" y="762">5</text><text x="279" y="781">0</text><text x="279" y="800">-5</text>
</g>
<g font-size="6.8" text-anchor="middle" style="fill:#555">
<text x="68" y="817">-5</text><text x="86" y="817">0</text><text x="104" y="817">5</text><text x="122" y="817">10</text>
<text x="140" y="817">-5</text><text x="158" y="817">0</text><text x="177" y="817">5</text><text x="195" y="817">10</text>
<text x="296" y="817">-5</text><text x="315" y="817">0</text><text x="334" y="817">5</text><text x="352" y="817">10</text>
<text x="372" y="817">-5</text><text x="390" y="817">0</text><text x="408" y="817">5</text><text x="424" y="817">10</text>
</g>
<text x="128" y="845" font-size="8.5" text-anchor="middle"><tspan class="it">Kdm2a</tspan><tspan dy="-3" font-size="5.5" class="it">matKO</tspan><tspan dy="3" class="it">Kdm2b</tspan><tspan dy="-3" font-size="5.5" class="it">matKO</tspan><tspan dy="3"> 2-cell (log2FC)</tspan></text>
<text x="352" y="845" font-size="8.5" text-anchor="middle"><tspan class="it">Kdm2a</tspan><tspan dy="-3" font-size="5.5" class="it">matKO</tspan><tspan dy="3" class="it">Kdm2b</tspan><tspan dy="-3" font-size="5.5" class="it">matΔCxxC</tspan><tspan dy="3"> 2-cell (log2FC)</tspan></text>
<rect x="460" y="707" width="9" height="83" fill="url(#cbar)"/>
<text transform="translate(455,748) rotate(-90)" font-size="7" text-anchor="middle">Promoter delta DNAme (%)</text>
<g font-size="6.8">
<text x="473" y="710">100%</text><text x="473" y="735">50%</text><text x="473" y="761">0%</text><text x="471" y="787">−50%</text>
</g>
</svg>
</body></html>
